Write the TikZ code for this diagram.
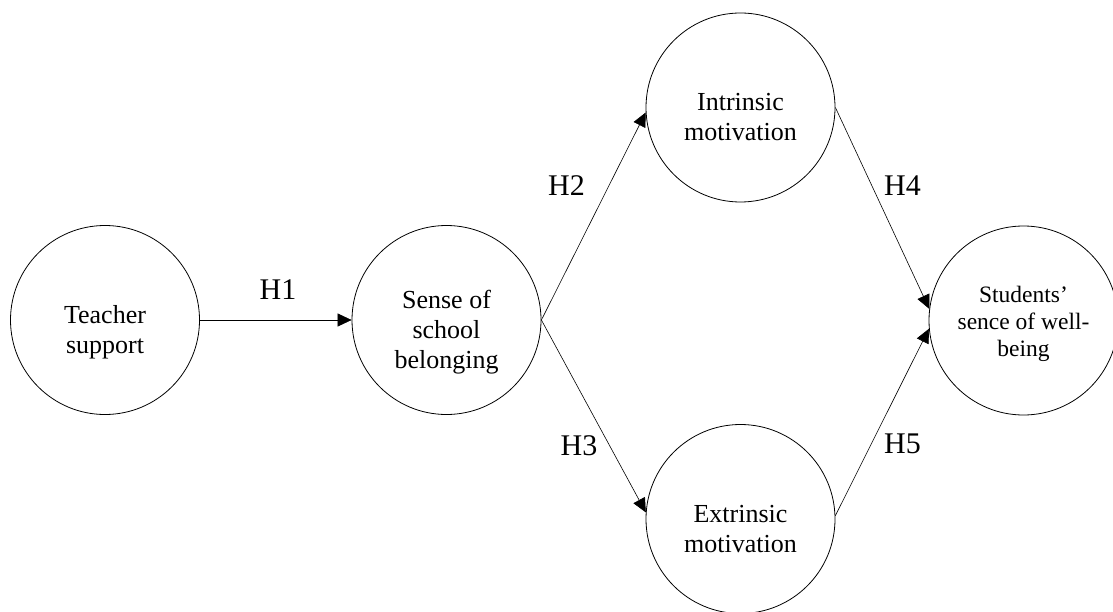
\documentclass[tikz,border=0pt]{standalone}
\usepackage{fontspec}
\setmainfont{Liberation Serif}
\usetikzlibrary{arrows.meta}
\begin{document}
\begin{tikzpicture}[x=1pt,y=-1pt,
  circ/.style={circle,draw,line width=0.8pt,minimum size=189pt,inner sep=0pt},
  ctext/.style={anchor=north,inner sep=0pt,font=\fontsize{26}{30}\selectfont},
  stext/.style={anchor=north,inner sep=0pt,font=\fontsize{23.5}{27}\selectfont},
  hlab/.style={anchor=base,inner sep=0pt,font=\fontsize{30}{36}\selectfont},
  arr/.style={line width=0.6pt,-{Triangle[length=14pt,width=13pt]}}]
\useasboundingbox (0,0) rectangle (1113,612);
% circles
\node[circ] (ts)  at (105,320)    {};
\node[circ] (sb)  at (446.5,320)  {};
\node[circ] (im)  at (740.5,107.5) {};
\node[circ] (em)  at (740.5,519)  {};
\node[circ] (wb)  at (1023.5,320.5) {};
% texts
\node[ctext] (tst) at (105,302)   {\begin{tabular}{@{}c@{}}Teacher\\support\end{tabular}};
\node[ctext] (sbt) at (446.5,287) {\begin{tabular}{@{}c@{}}Sense of\\school\\belonging\end{tabular}};
\node[ctext] (imt) at (740.5,89.5) {\begin{tabular}{@{}c@{}}Intrinsic\\motivation\end{tabular}};
\node[ctext] (emt) at (740.5,501) {\begin{tabular}{@{}c@{}}Extrinsic\\motivation\end{tabular}};
\node[stext] (wbt) at (1023.5,283) {\begin{tabular}{@{}c@{}}Students’\\sence of well-\\being\end{tabular}};
% connectors
\draw[arr] (ts.east) -- (sb.west);
\draw[arr] (sb.east) -- (im.183);
\draw[arr] (sb.east) -- (em.176.5);
\draw[arr] (im.east) -- (wb.173.6);
\draw[arr] (em.2.4) -- (wb.185.8);
% labels
\node[hlab] (h1) at (278,299)   {H1};
\node[hlab] (h2) at (566.5,196) {H2};
\node[hlab] (h3) at (579,455)   {H3};
\node[hlab] (h4) at (902.5,196) {H4};
\node[hlab] (h5) at (902.5,453) {H5};
\end{tikzpicture}
\end{document}
